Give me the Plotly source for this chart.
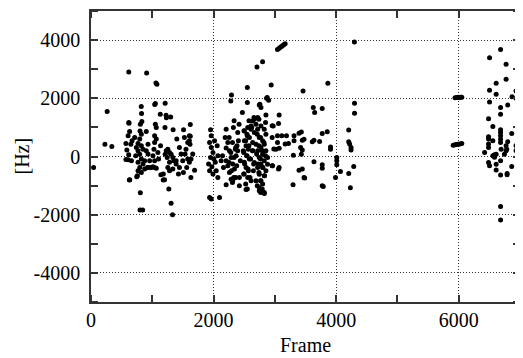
import plotly.graph_objects as go

# ---- data (frame index, frequency in Hz) ----
frames_1 = [42, 227, 264, 340, 616, 908, 1060, 1075, 820, 1040,
            1050, 1210, 1225, 1230, 1300, 616, 825, 830, 1130, 1050,
            1207, 1340, 1510, 1620, 1620, 632, 805, 800, 843, 1270,
            1307, 1330, 1180, 1200, 1630, 1690, 626, 746, 1140, 1178,
            620, 630, 605, 570, 650, 585, 615, 570, 605, 660,
            670, 713, 740, 767, 730, 767, 800, 805, 821, 795,
            821, 848, 795, 821, 767, 795, 767, 821, 757, 848,
            875, 902, 902, 930, 957, 920, 984, 1011, 1038, 1065,
            1038, 1011, 1027, 1038, 1065, 1038, 1065, 1092, 1102, 1135,
            1210, 1227, 1254, 1281, 1308, 1243, 1281, 1254, 1281, 1335,
            1351, 1389, 1400, 1443, 1470, 1497, 1443, 1427, 1508, 1535,
            1550, 1578, 1524, 1605, 1605, 1615, 1578, 1605, 1562, 1632,
            1660, 1389, 1335, 930, 946, 875]
hz_1 = [-377, 425, 1545, 343, 2905, 2870, 2530, 2480, 1715, 1790,
        1820, 1830, 1420, 1330, 1360, 1165, 1480, 1200, 1455, 1110,
        1000, 916, 916, 1100, 700, -800, -1245, -1840, -1840, -1120,
        -1610, -2000, -600, -800, -720, -470, -810, -696, -628, -810,
        1143, 857, 710, 447, 425, 220, 60, -100, -110, -147,
        540, 650, 310, 200, 25, 450, 880, 1110, 767, 600,
        370, 250, 80, -90, -200, -376, -490, -550, -660, -260,
        -147, 860, 200, 82, -147, -376, -376, -350, -376, -400,
        -147, 25, 250, 480, 600, 710, 996, 140, -90, 370,
        80, 200, 250, 140, 80, -33, -200, -376, -490, -33,
        -147, -260, 600, 310, 82, -147, -376, -604, -550, 82,
        250, 480, 650, 710, 540, 425, -90, -200, -376, -90,
        82, -147, -430, 425, -376, -430]

frames_2 = [2394, 1951, 2205, 2557, 1935, 2097, 2205, 2070, 2286, 2421,
            2530, 1962, 2313, 2421, 2746, 2827, 1935, 1962, 1990, 1951,
            2005, 1919, 1973, 2027, 1935, 2043, 1990, 2070, 2059, 2016,
            1962, 2189, 2232, 2205, 2259, 2286, 2205, 2232, 2313, 2340,
            2259, 2367, 2394, 2383, 2405, 2437, 2329, 2162, 2146, 2124,
            2356, 2502, 2546, 2584, 2502, 2530, 2567, 2492, 2546, 2584,
            2502, 2530, 2567, 2492, 2557, 2611, 2638, 2622, 2638, 2654,
            2611, 2551, 2940, 2292, 2281, 2551, 2756, 2875, 2470, 2335,
            2416, 2324, 2578, 2659, 2740, 2848, 2956, 2254, 2308, 2362,
            2281, 2335, 2254, 2378, 2292, 2362, 2308, 2497, 2551, 2524,
            2578, 2486, 2540, 2605, 2508, 2562, 2497, 2594, 2524, 2551,
            2713, 2767, 2821, 2740, 2794, 2702, 2848, 2767, 2724, 2805,
            2740, 2832, 2767, 2713, 2794, 2767, 2956, 2956, 2983]
hz_2 = [825, 916, 940, 1000, -1406, -1406, -970, -720, -780, -720,
        -1130, -1460, -833, -1005, -1176, -1270, 480, 310, 140, -33,
        -90, -260, -350, -200, -490, -490, -604, 25, 370, 540,
        710, 650, 480, 290, 200, -33, -147, -320, -260, -430,
        -550, 25, 200, 370, 540, -147, -720, -376, 25, -147,
        250, 880, 767, 650, 540, 370, 250, 140, 25, -90,
        -200, -376, -490, -604, -720, -833, 480, 996, 200, -260,
        1050, 2368, 2460, 2117, 1911, 1854, 1797, 2025, 1511, 1225,
        1111, 997, 1225, 1340, 1282, 1168, 1054, 654, 482, 311,
        139, -33, -204, -318, -490, -718, -890, 882, 711, 539,
        368, 196, 25, -90, -261, -433, -604, -718, -947, -1118,
        768, 654, 482, 368, 196, 82, 25, -90, -261, -375,
        -547, -661, -833, -1004, -1118, -1233, 654, -318, 254]

frames_3 = [3043, 3070, 3095, 3120, 3145, 3168, 2708, 2800, 3460, 2865,
            2898, 2746, 2773, 3070, 2854, 2665, 2720, 2973, 3060, 3043,
            3114, 3190, 3313, 3394, 3432, 3043, 3168, 3222, 3313, 3448,
            3420, 3448, 3016, 3070, 3302, 3432, 2962, 3070, 3060, 3394,
            3448, 3486, 3297, 2638, 2692, 2611, 2665, 2719, 2773, 2827,
            2854, 2746, 2800, 2827, 2773, 2719, 2800, 2854, 2746, 2827,
            2773, 2800, 2854, 2746, 2827, 2773, 2692, 2800, 2746, 2827,
            2773, 2665, 2638, 2692, 2881, 2881, 2719, 2650]
hz_3 = [3680, 3720, 3760, 3800, 3840, 3875, 3076, 3260, 2250, 2000,
        1935, 1770, 1680, 1430, 1430, 1280, 1340, 1050, 1130, 710,
        710, 710, 710, 800, 840, 480, 426, 450, 540, 560,
        310, 220, 250, 285, 45, 80, -320, -380, -430, -470,
        -430, -740, -970, 1224, 1109, 938, 823, 938, 1052, 938,
        766, 652, 537, 423, 309, 194, 80, 194, -34, -149,
        -263, -377, -492, -606, -663, -835, -835, -949, -1064, -1235,
        -1178, -206, 194, 423, -34, -263, -377, -492]

frames_4 = [4298, 3865, 4300, 4300, 3627, 3649, 3773, 3854, 3773, 3476,
            3611, 3638, 3730, 3908, 3908, 4205, 4205, 4220, 4243, 4243,
            4010, 4010, 4010, 3638, 3773, 3773, 4070, 4287, 4205, 3476,
            3990, 3773, 3790, 4232]
hz_4 = [3934, 2516, 1831, 1488, 1680, 1510, 1650, 850, 790, 597,
        505, 560, 515, 330, 250, 910, 505, 426, 309, 220,
        -34, -149, -286, -183, -286, -400, -515, -343, -583, -720,
        -720, -1006, -1030, -1070]

frames_5 = [5940, 5965, 5990, 6010, 6030, 6050, 5910, 5940, 5965, 5990,
            6020, 6050, 6683, 6503, 6773, 6773, 6611, 6503, 6611, 6935,
            6870, 6935, 6503, 6800, 6683, 6683, 6487, 6557, 6683, 6683,
            6683, 6683, 6683, 6865, 6487, 6487, 6487, 6487, 6557, 6800,
            6773, 6784, 6935, 6979, 6935, 6422, 6557, 6584, 6611, 6584,
            6746, 6773, 6692, 6487, 6503, 6611, 6683, 6865, 6611, 6683,
            6790, 6790, 6683, 6683]
hz_5 = [2020, 2030, 2035, 2030, 2040, 2035, 390, 400, 410, 420,
        430, 450, 3680, 3390, 3170, 2655, 2520, 2275, 2140, 2250,
        2050, 2000, 1875, 1770, 1680, 1450, 1300, 1030, 915, 825,
        710, 595, 480, 790, 680, 600, 426, 310, 540, 505,
        370, 250, 370, 310, 200, 140, 25, 60, 80, -30,
        80, 194, 250, -206, -320, -263, -149, -343, -460, -640,
        -583, -630, -1720, -2180]

x_ticks = [0, 2000, 4000, 6000]
y_ticks = [-4000, -2000, 0, 2000, 4000]
x_title = "Frame"
y_title = "[Hz]"

frames = frames_1 + frames_2 + frames_3 + frames_4 + frames_5
hz = hz_1 + hz_2 + hz_3 + hz_4 + hz_5

fig = go.Figure(go.Scatter(
    x=frames, y=hz, mode="markers",
    marker=dict(color="black", size=5, line=dict(width=0)),
    hoverinfo="skip", showlegend=False))

font_family = "Liberation Serif"
axis_common = dict(
    showline=True, linecolor="#333", linewidth=1.5, mirror="ticks",
    ticks="", showgrid=True, gridcolor="#333", griddash="1px,2px", gridwidth=1,
    zeroline=False,
    tickfont=dict(family=font_family, size=20, color="black"),
)

fig.update_xaxes(range=[0, 7000], tickvals=x_ticks,
                 ticktext=[str(v) for v in x_ticks],
                 minor=dict(dtick=1000, tick0=0, ticks="inside", ticklen=7,
                            tickcolor="#333", tickwidth=1.5, showgrid=False),
                 ticklabelstandoff=-1, **axis_common)
fig.update_yaxes(range=[-5000, 5000], tickvals=y_ticks,
                 ticktext=[str(v) for v in y_ticks],
                 minor=dict(dtick=1000, tick0=0, ticks="inside", ticklen=7,
                            tickcolor="#333", tickwidth=1.5, showgrid=False),
                 ticklabelstandoff=5, **axis_common)

fig.add_annotation(text=x_title, xref="paper", yref="paper", x=0.5, y=0,
                   xanchor="center", yanchor="middle", yshift=-43,
                   showarrow=False,
                   font=dict(family=font_family, size=20, color="black"))
fig.add_annotation(text=y_title, xref="paper", yref="paper", x=0, y=0.5,
                   xanchor="center", yanchor="middle", xshift=-70,
                   textangle=-90, showarrow=False,
                   font=dict(family=font_family, size=20, color="black"))

# the page body adds an 8px offset, so the figure is sized to land the
# plot box where the reference has it
fig.update_layout(width=515, height=350,
                  margin=dict(l=83, r=1, t=2, b=56),
                  paper_bgcolor="white", plot_bgcolor="white")

fig.write_html("out.html")
